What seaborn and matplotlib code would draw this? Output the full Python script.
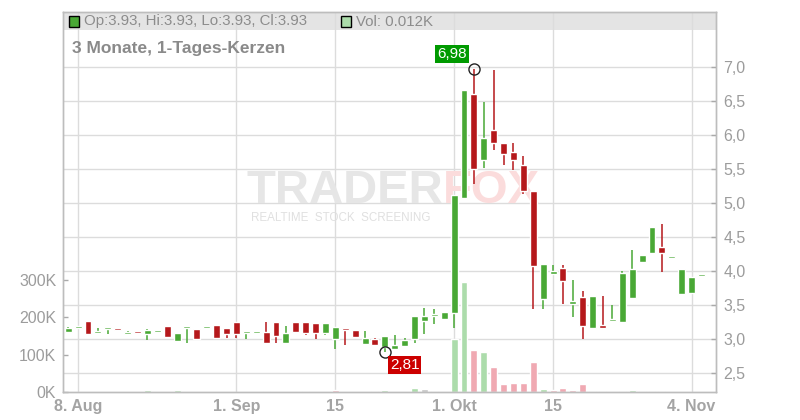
import numpy as np
import pandas as pd
import matplotlib
matplotlib.use("Agg")
import matplotlib.pyplot as plt
import seaborn as sns
from matplotlib.patches import Rectangle
from matplotlib.transforms import blended_transform_factory

# trading days shown (Xetra, 3 months of daily candles)
days = pd.bdate_range("2025-08-07", "2025-11-05")

opens = [3.11, 3.16, 3.27, 3.09, 3.15, 3.15, 3.08, 3.12, 3.08, 3.11,
         3.20, 2.975, 3.16, 3.15, 3.16, 3.21, 3.17, 3.25, 3.09, 3.09,
         3.11, 3.25, 2.95, 3.25, 3.25, 3.235, 3.10, 3.01, 3.15, 3.14,
         2.935, 3.00, 2.88, 2.86, 2.905, 3.00, 3.27, 3.34, 3.30, 3.39,
         5.08, 6.61, 5.63, 6.08, 5.89, 5.75, 5.57, 5.18, 3.60, 3.965,
         4.05, 3.52, 3.62, 3.17, 3.21, 3.27, 3.26, 3.61, 4.13, 4.27,
         4.36, 4.19, 3.67, 3.685, 3.93]
highs = [3.185, 3.16, 3.27, 3.16, 3.17, 3.15, 3.12, 3.12, 3.15, 3.14,
         3.20, 3.09, 3.16, 3.15, 3.16, 3.21, 3.17, 3.25, 3.09, 3.09,
         3.25, 3.25, 3.20, 3.25, 3.25, 3.235, 3.235, 3.18, 3.15, 3.14,
         3.12, 3.02, 3.05, 3.06, 3.02, 3.34, 3.46, 3.445, 3.40, 5.12,
         6.67, 6.98, 6.49, 6.96, 5.89, 5.89, 5.70, 5.18, 4.11, 4.09,
         4.09, 3.87, 3.71, 3.64, 3.64, 3.50, 4.00, 4.31, 4.24, 4.65,
         4.70, 4.19, 4.03, 3.915, 3.93]
lows = [3.11, 3.16, 3.08, 3.09, 3.08, 3.14, 3.08, 3.09, 2.99, 3.11,
        3.04, 2.975, 2.95, 3.00, 3.16, 3.02, 3.02, 3.02, 3.00, 3.09,
        2.95, 2.95, 2.95, 3.10, 3.06, 3.01, 3.06, 2.86, 2.92, 3.04,
        2.935, 2.92, 2.81, 2.86, 2.905, 2.95, 3.08, 3.23, 3.30, 3.17,
        5.08, 5.29, 5.52, 5.79, 5.57, 5.49, 5.13, 3.445, 3.445, 3.965,
        3.52, 3.33, 3.01, 3.17, 3.17, 3.27, 3.26, 3.61, 4.13, 4.27,
        3.99, 4.19, 3.67, 3.685, 3.93]
closes = [3.16, 3.16, 3.08, 3.09, 3.17, 3.14, 3.10, 3.09, 3.14, 3.14,
          3.04, 3.09, 3.16, 3.00, 3.16, 3.02, 3.08, 3.08, 3.09, 3.09,
          2.95, 3.05, 3.09, 3.11, 3.10, 3.10, 3.235, 3.18, 3.13, 3.04,
          3.02, 2.92, 3.05, 2.92, 2.99, 3.34, 3.34, 3.35, 3.40, 5.12,
          6.67, 5.51, 5.96, 5.88, 5.73, 5.64, 5.18, 4.08, 4.11, 4.01,
          3.86, 3.565, 3.20, 3.64, 3.17, 3.27, 3.975, 4.03, 4.24, 4.65,
          4.27, 4.19, 4.03, 3.915, 3.93]
# volume in thousands
volumes_k = [0, 0, 0, 0, 0, 0, 0, 0, 5, 0,
             0, 5, 0, 0, 0, 0, 0, 0, 0, 0,
             2.5, 0, 0, 0, 2.5, 0, 0, 7, 0, 0,
             0, 3.5, 6, 0, 0, 11.5, 9, 3.5, 0, 142,
             296, 113, 108.5, 68.5, 23, 25.7, 25.7, 80, 8, 5,
             11.5, 5, 22, 3.5, 3.5, 0, 3.5, 5, 3.5, 3.5,
             3.5, 0, 0, 0, 0.012]

tick_dates = ["2025-08-08", "2025-09-01", "2025-09-15", "2025-10-01", "2025-10-15", "2025-11-04"]
tick_labels = ["8. Aug", "1. Sep", "15", "1. Okt", "15", "4. Nov"]
price_ticks = [2.5, 3.0, 3.5, 4.0, 4.5, 5.0, 5.5, 6.0, 6.5, 7.0]
vol_ticks = [0, 100, 200, 300]

GREEN = "#49a835"
RED = "#b5181b"
VOL_UP = "#acdcab"
VOL_DOWN = "#f0a9b2"
VOL_FLAT = "#c4c4c4"
GRID = "#dcdcdc"
TXT = "#9c9c9c"

sns.set_theme(style="white")
plt.rcParams["font.family"] = ["Liberation Sans", "DejaVu Sans"]

df = pd.DataFrame({"day": days, "open": opens, "high": highs, "low": lows,
                   "close": closes, "vol": volumes_k})
df["idx"] = np.arange(len(df))
chg = df["close"].diff().fillna(0)
df["dir"] = np.where(chg > 0, "up", np.where(chg < 0, "down", "flat"))

fig = plt.figure(figsize=(8, 4.2), dpi=100)
ax = fig.add_axes([0.0791, 0.0660, 0.8163, 0.9061])
axp = ax.twinx()

# volume bars (left axis)
sns.barplot(data=df, x="idx", y="vol", hue="dir", native_scale=True, dodge=False,
            palette={"up": VOL_UP, "down": VOL_DOWN, "flat": VOL_FLAT},
            width=0.7, errorbar=None, legend=False, saturation=1, ax=ax, zorder=2)
ax.set_ylim(0, 1017.6)
ax.set_xlim(-0.5, 65.5)
axp.set_ylim(2.221, 7.818)

# header band
ax.add_patch(Rectangle((0, 0.9519), 1, 0.0481, transform=ax.transAxes,
                       facecolor="#e4e4e4", edgecolor="none", zorder=0))

# grid
tick_pos = [int(np.where(days == pd.Timestamp(d))[0][0]) for d in tick_dates]
for xp in tick_pos:
    ax.axvline(xp, color=GRID, lw=1, zorder=1)
ytr = blended_transform_factory(ax.transAxes, axp.transData)
for yp in price_ticks:
    ax.plot([0, 1], [yp, yp], transform=ytr, color=GRID, lw=1, zorder=1)

# watermark
ax.text(0.5815, 0.529, "TRADER", transform=ax.transAxes, ha="right", va="center",
        fontsize=34, fontweight="bold", color="#e6e6e6", zorder=1.5)
ax.text(0.5815, 0.529, "FOX", transform=ax.transAxes, ha="left", va="center",
        fontsize=34, fontweight="bold", color="#fbdcdc", zorder=1.5)
ax.text(0.287, 0.457, "REALTIME  STOCK  SCREENING", transform=ax.transAxes,
        ha="left", va="center", fontsize=8.4, color="#e0e0e0", zorder=1.5)

# candles (right axis)
up = df["close"] >= df["open"]
colors = np.where(up, GREEN, RED)
axp.vlines(df["idx"], df["low"], df["high"], colors=colors, lw=1.1, zorder=3)
body_lo = np.minimum(df["open"], df["close"])
body_h = np.maximum((df["close"] - df["open"]).abs(), 0.03)
axp.bar(df["idx"], body_h, bottom=body_lo, width=0.7, color=colors, zorder=4)

# high / low markers
i_hi = int(df["high"].idxmax())
i_lo = int(df["low"].idxmin())
axp.plot([i_hi, i_lo], [df["high"][i_hi], df["low"][i_lo]], "o", ms=8,
         mfc="none", mec="#222222", mew=1, zorder=5)
axp.annotate(f"{df['high'][i_hi]:.2f}".replace(".", ","), (i_hi, df["high"][i_hi]),
             xytext=(-7, 8), textcoords="offset pixels", ha="right", va="bottom",
             color="white", fontsize=11,
             bbox=dict(boxstyle="square,pad=0.12", fc="#009a00", ec="none"), zorder=6)
axp.annotate(f"{df['low'][i_lo]:.2f}".replace(".", ","), (i_lo, df["low"][i_lo]),
             xytext=(5, -6), textcoords="offset pixels", ha="left", va="top",
             color="white", fontsize=11,
             bbox=dict(boxstyle="square,pad=0.12", fc="#cc0000", ec="none"), zorder=6)

# axes styling
ax.set_xlabel("")
ax.set_ylabel("")
axp.set_ylabel("")
ax.set_xticks(tick_pos)
ax.set_xticklabels(tick_labels, fontweight="bold", fontsize=11.5, color="#a4a4a4")
ax.set_yticks(vol_ticks)
ax.set_yticklabels([f"{v}K" for v in vol_ticks], fontsize=11.5, color=TXT)
axp.set_yticks(price_ticks)
axp.set_yticklabels([f"{v:.1f}".replace(".", ",") for v in price_ticks],
                    fontsize=11.5, color=TXT)
ax.tick_params(axis="x", direction="out", length=3, width=1, color="#aaaaaa", pad=2)
ax.tick_params(axis="y", direction="in", length=3.5, width=1, color="#aaaaaa", pad=5, left=True)
axp.tick_params(axis="y", direction="in", length=3.5, width=1, color="#aaaaaa", pad=5, right=True)
for a in (ax, axp):
    for s in a.spines.values():
        s.set_color("#bdbdbd")
        s.set_linewidth(1)
ax.set_zorder(0)
axp.set_zorder(1)
axp.patch.set_visible(False)

# header legend and title
fig.patches.append(Rectangle((68.5 / 800, 1 - 26.5 / 420), 10 / 800, 10 / 420,
                             transform=fig.transFigure, facecolor=GREEN,
                             edgecolor="black", lw=1, zorder=10))
last = df.iloc[-1]
fig.text(84 / 800, 1 - 21.5 / 420,
         f"Op:{last['open']:.2f}, Hi:{last['high']:.2f}, Lo:{last['low']:.2f}, Cl:{last['close']:.2f}",
         ha="left", va="center", fontsize=10.8, color="#8c8c8c")
fig.patches.append(Rectangle((341 / 800, 1 - 26.5 / 420), 10 / 800, 10 / 420,
                             transform=fig.transFigure, facecolor=VOL_UP,
                             edgecolor="black", lw=1, zorder=10))
fig.text(356 / 800, 1 - 21.5 / 420, f"Vol: {last['vol']:.3f}K",
         ha="left", va="center", fontsize=10.8, color="#8c8c8c")
fig.text(72 / 800, 1 - 48 / 420, "3 Monate, 1-Tages-Kerzen", ha="left", va="center",
         fontsize=12.5, fontweight="bold", color="#8a8a8a")

fig.savefig("out.png", dpi=100)
